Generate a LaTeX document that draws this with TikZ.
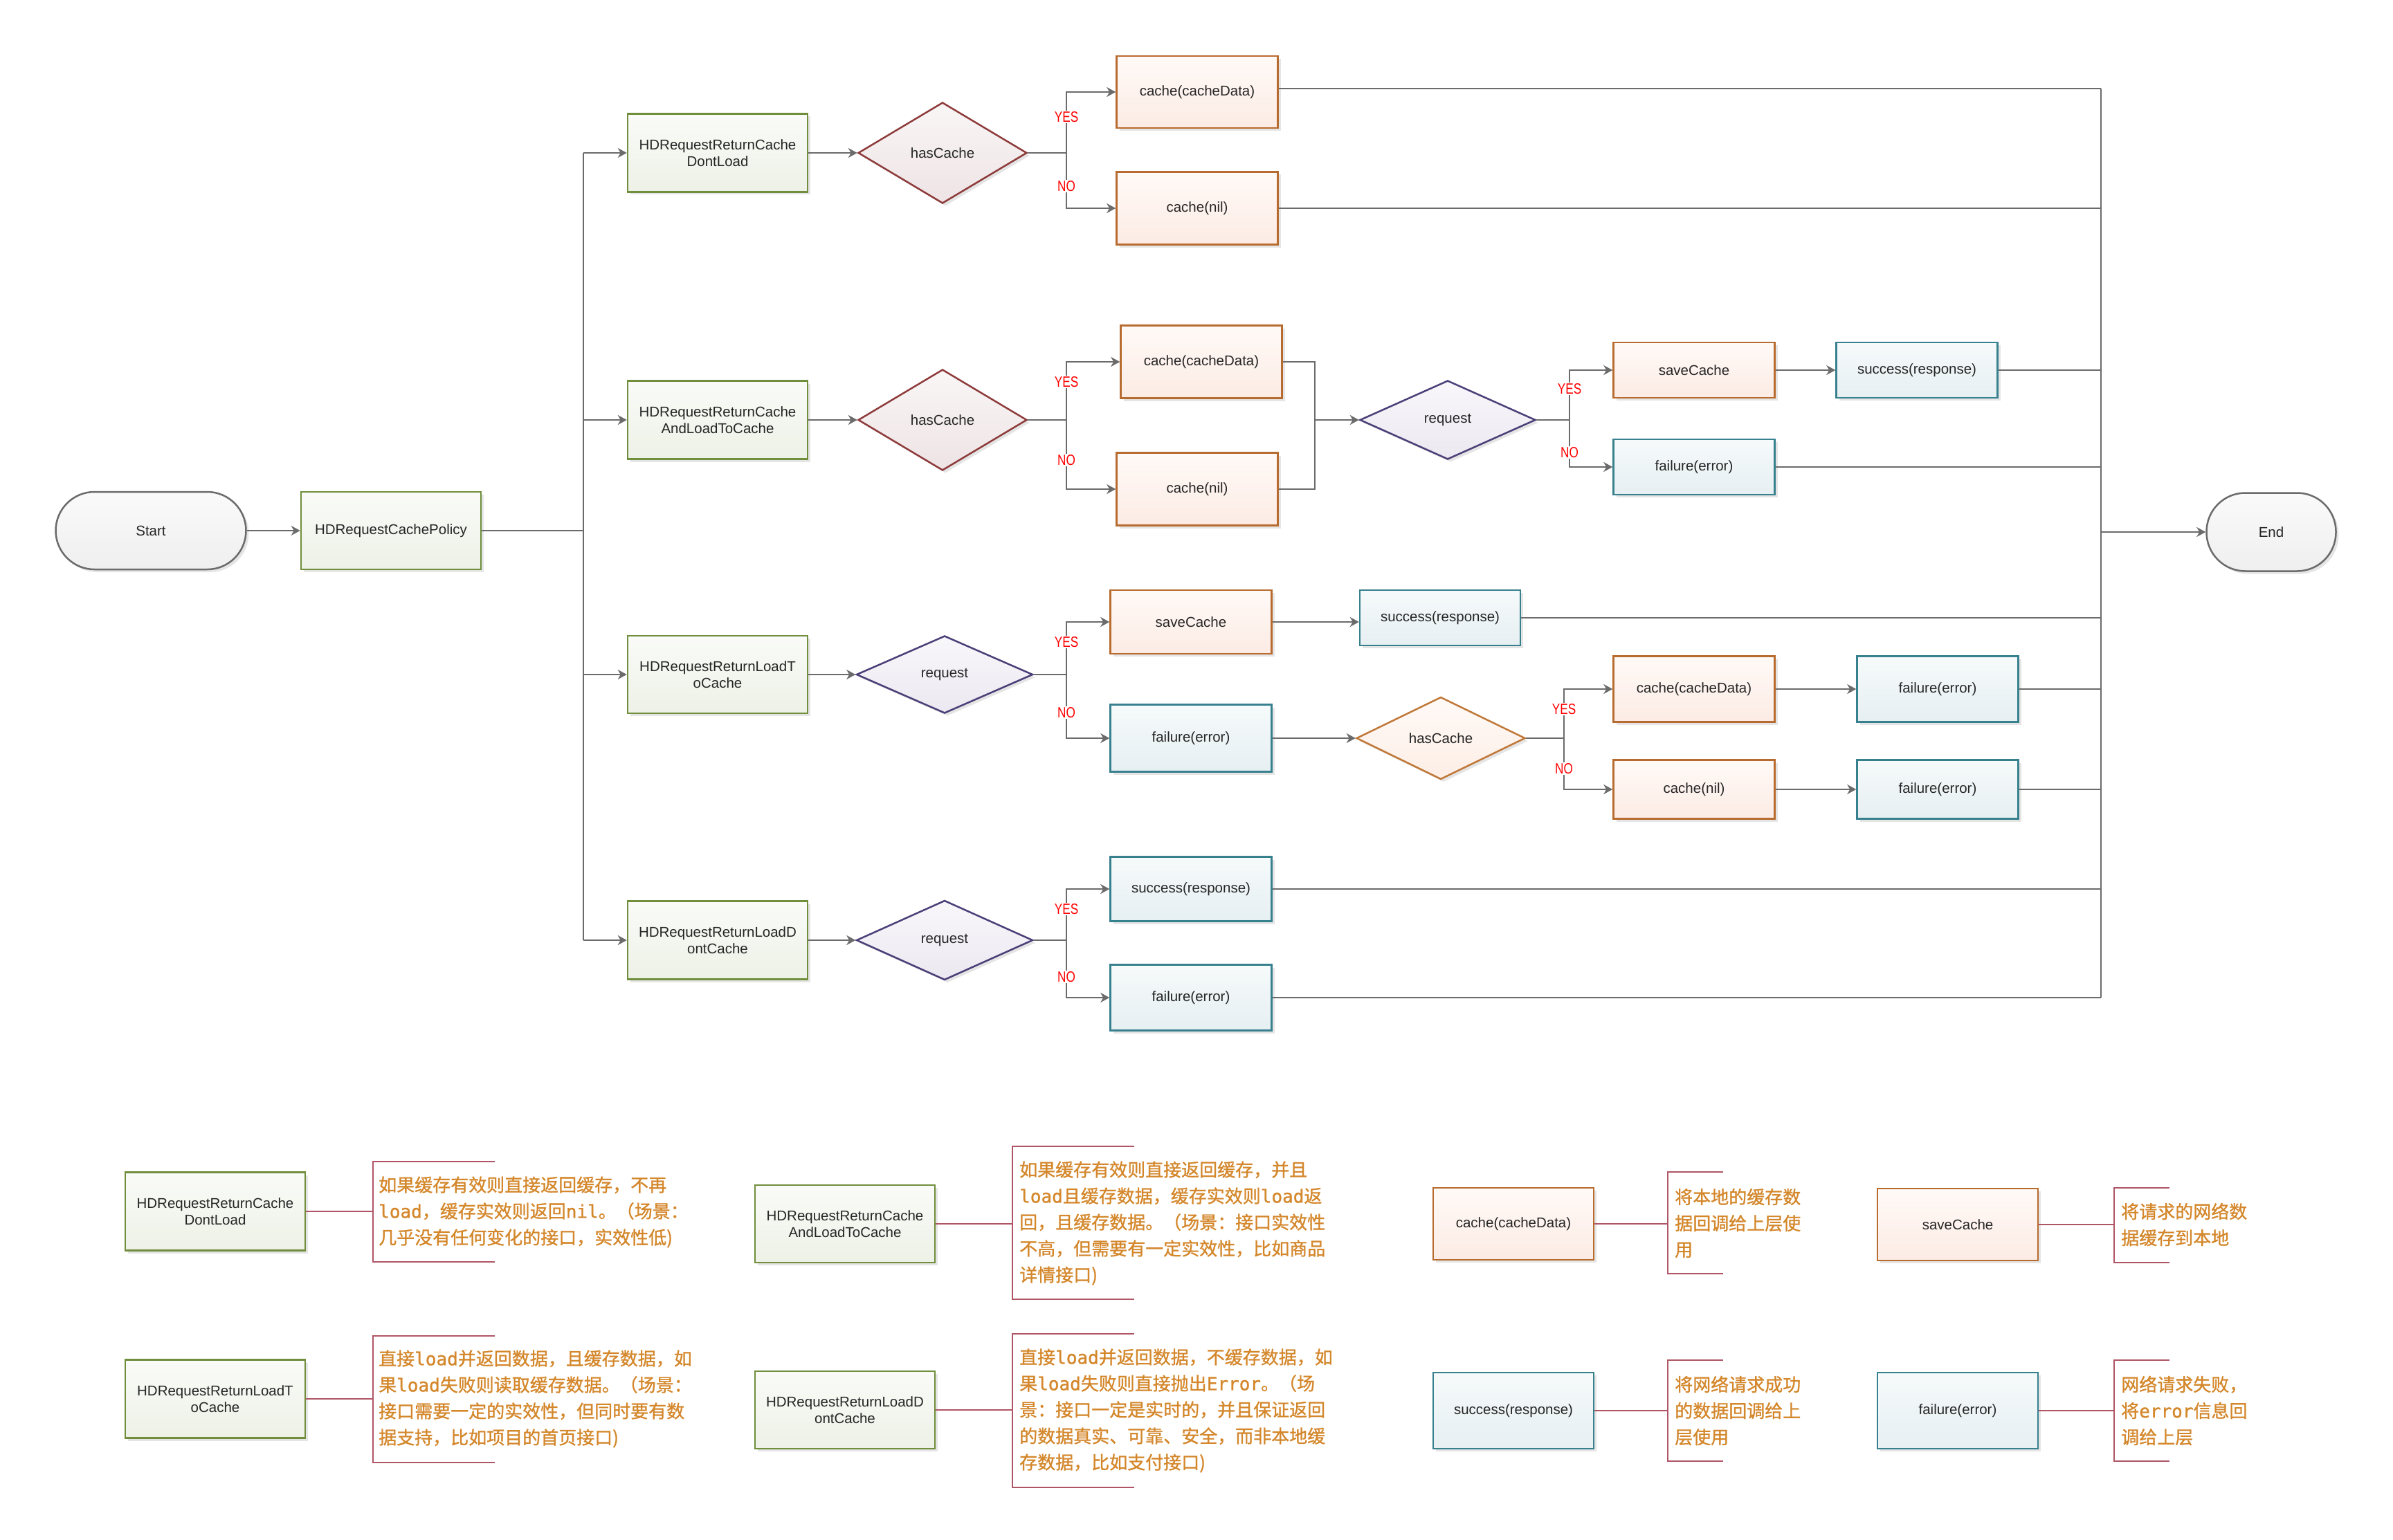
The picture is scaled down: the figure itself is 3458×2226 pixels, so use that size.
\documentclass[tikz,border=0pt]{standalone}
\usepackage{fontspec}
\setmainfont{Liberation Sans}
\newfontfamily\cjkfont[FakeBold=1]{Noto Sans CJK SC}
\newfontfamily\monofont[FakeBold=1]{DejaVu Sans Mono}
\newfontfamily\narrowfont[FakeStretch=0.8]{Liberation Sans}
\usetikzlibrary{shapes.geometric,arrows.meta,shadows}

\definecolor{linegray}{HTML}{6B6B6B}
\definecolor{grnB}{HTML}{708E3C}
\definecolor{grnT}{HTML}{FAFBF8}
\definecolor{grnD}{HTML}{EDF1E6}
\definecolor{orgB}{HTML}{B86B2E}
\definecolor{orgT}{HTML}{FFFAF7}
\definecolor{orgD}{HTML}{FCEBE4}
\definecolor{bluB}{HTML}{37808E}
\definecolor{bluT}{HTML}{F6FAFB}
\definecolor{bluD}{HTML}{E6EFF2}
\definecolor{redB}{HTML}{8E3B3B}
\definecolor{redT}{HTML}{F9F6F6}
\definecolor{redD}{HTML}{EEE3E5}
\definecolor{purB}{HTML}{4B3F78}
\definecolor{purT}{HTML}{F8F7FA}
\definecolor{purD}{HTML}{ECE8F1}
\definecolor{hcB}{HTML}{C07838}
\definecolor{hcT}{HTML}{FFFAF7}
\definecolor{hcD}{HTML}{FDEEE6}
\definecolor{trmB}{HTML}{6B6B6B}
\definecolor{trmT}{HTML}{FAFAFA}
\definecolor{trmD}{HTML}{EFEFEF}
\definecolor{lgline}{HTML}{B05565}
\definecolor{lgtxt}{HTML}{D4872B}

\newcommand\lblfont{\fontsize{20.5}{24}\selectfont}

\tikzset{
  shapebase/.style={draw, line width=2.5pt, inner sep=2pt, align=center, font=\lblfont, text=black!85,
    drop shadow={shadow xshift=4pt, shadow yshift=-4pt, fill=black!10, opacity=1}},
  greenbox/.style={shapebase, rectangle, draw=grnB, top color=grnT, bottom color=grnD, minimum width=260pt},
  orangebox/.style={shapebase, rectangle, draw=orgB, top color=orgT, bottom color=orgD, minimum width=233pt},
  bluebox/.style={shapebase, rectangle, draw=bluB, top color=bluT, bottom color=bluD, minimum width=233pt},
  terminal/.style={shapebase, rectangle, rounded corners=56pt, draw=trmB, top color=trmT, bottom color=trmD, minimum height=112pt},
  diamondbase/.style={shapebase, diamond, inner sep=0pt},
  redcheck/.style={diamondbase, draw=redB, top color=redT, bottom color=redD},
  purcheck/.style={diamondbase, draw=purB, top color=purT, bottom color=purD},
  orgcheck/.style={diamondbase, draw=hcB, top color=hcT, bottom color=hcD},
  wire/.style={draw=linegray, line width=2.5pt},
  wirearrow/.style={wire, -{Stealth[length=13pt,width=14pt,inset=4pt]}},
  yn/.style={text=red, font=\narrowfont\fontsize{21.5}{24}\selectfont, fill=white, inner sep=1.5pt},
  lgwire/.style={draw=lgline, line width=2.5pt},
  lgtext/.style={text=lgtxt, font=\cjkfont\fontsize{26}{38}\selectfont, align=left, anchor=west, inner sep=0pt},
}

\newcommand\lgbracket[4]{\draw[lgwire] (#4,#2) -- (#1,#2) -- (#1,#3) -- (#4,#3);}

\begin{document}
\begin{tikzpicture}[x=1pt,y=-1pt]
\useasboundingbox (0,0) rectangle (3458,2226);
\fill[white] (0,0) rectangle (3458,2226);

% ---------- main flow nodes ----------
\node[terminal, minimum width=275pt] (start) at (218,767) {Start};
\node[greenbox, minimum height=112pt] (policy) at (565,767) {HDRequestCachePolicy};
\node[terminal, minimum width=187pt, minimum height=113pt] (endn) at (3282,769) {End};

\node[greenbox, minimum height=113pt] (r1) at (1037,221) {HDRequestReturnCache\\DontLoad};
\node[greenbox, minimum height=113pt] (r2) at (1037,607) {HDRequestReturnCache\\AndLoadToCache};
\node[greenbox, minimum height=112pt] (r3) at (1037,975) {HDRequestReturnLoadT\\oCache};
\node[greenbox, minimum height=113pt] (r4) at (1037,1359) {HDRequestReturnLoadD\\ontCache};

\node[redcheck, minimum width=244pt, minimum height=146pt] (d1) at (1362,221) {hasCache};
\node[redcheck, minimum width=244pt, minimum height=146pt] (d2) at (1362,607) {hasCache};
\node[purcheck, minimum width=255pt, minimum height=112pt] (q3) at (1365,975) {request};
\node[purcheck, minimum width=255pt, minimum height=115pt] (q4) at (1365,1359) {request};
\node[purcheck, minimum width=254pt, minimum height=114pt] (q2) at (2092,607) {request};
\node[orgcheck, minimum width=244pt, minimum height=119pt] (h3) at (2082,1067) {hasCache};

\node[orangebox, minimum height=104pt] (c1a) at (1730,133) {cache(cacheData)};
\node[orangebox, minimum height=105pt] (c1n) at (1730,301) {cache(nil)};
\node[orangebox, minimum height=105pt] (c2a) at (1736,523) {cache(cacheData)};
\node[orangebox, minimum height=105pt] (c2n) at (1730,707) {cache(nil)};
\node[orangebox, minimum height=80pt] (s2) at (2448,535) {saveCache};
\node[orangebox, minimum height=92pt] (s3) at (1721,899) {saveCache};
\node[orangebox, minimum height=95pt] (c3a) at (2448,996) {cache(cacheData)};
\node[orangebox, minimum height=85pt] (c3n) at (2448,1141) {cache(nil)};

\node[bluebox, minimum height=80pt] (ok2) at (2770,535) {success(response)};
\node[bluebox, minimum height=80pt] (f2) at (2448,675) {failure(error)};
\node[bluebox, minimum height=80pt, minimum width=232pt] (ok3) at (2081,893) {success(response)};
\node[bluebox, minimum height=97pt] (f3) at (1721,1067) {failure(error)};
\node[bluebox, minimum height=95pt] (f3a) at (2800,996) {failure(error)};
\node[bluebox, minimum height=85pt] (f3n) at (2800,1141) {failure(error)};
\node[bluebox, minimum height=93pt] (ok4) at (1721,1285) {success(response)};
\node[bluebox, minimum height=95pt] (f4) at (1721,1442) {failure(error)};

% ---------- coordinates ----------
\coordinate (trunkTop) at (843,221);
\coordinate (trunkBot) at (843,1359);
\coordinate (trunkMid) at (843,767);
\coordinate (br1) at (1541,221);
\coordinate (br2) at (1541,607);
\coordinate (mg2) at (1900,607);
\coordinate (bq2) at (2268,607);
\coordinate (br3) at (1541,975);
\coordinate (bh3) at (2260,1067);
\coordinate (br4) at (1541,1359);
\coordinate (colT) at (3036,128);
\coordinate (colB) at (3036,1442);

% ---------- connectors ----------
\draw[wirearrow] (start) -- (policy);
\draw[wire] (policy) -- (trunkMid);
\draw[wire] (trunkTop) -- (trunkBot);
\draw[wirearrow] (trunkTop) -- (r1);
\draw[wirearrow] (trunkTop |- r2) -- (r2);
\draw[wirearrow] (trunkTop |- r3) -- (r3);
\draw[wirearrow] (trunkBot) -- (r4);

% row 1
\draw[wirearrow] (r1) -- (d1);
\draw[wire] (d1.east) -- (br1);
\draw[wirearrow] (br1) |- (c1a);
\draw[wirearrow] (br1) |- (c1n);

% row 2
\draw[wirearrow] (r2) -- (d2);
\draw[wire] (d2.east) -- (br2);
\draw[wirearrow] (br2) |- (c2a);
\draw[wirearrow] (br2) |- (c2n);
\draw[wire] (c2a.east) -| (mg2) |- (c2n.east);
\draw[wirearrow] (mg2) -- (q2);
\draw[wire] (q2.east) -- (bq2);
\draw[wirearrow] (bq2) |- (s2);
\draw[wirearrow] (bq2) |- (f2);
\draw[wirearrow] (s2) -- (ok2);

% row 3
\draw[wirearrow] (r3) -- (q3);
\draw[wire] (q3.east) -- (br3);
\draw[wirearrow] (br3) |- (s3);
\draw[wirearrow] (br3) |- (f3);
\draw[wirearrow] (s3.east) -- (s3.east -| ok3.west);
\draw[wirearrow] (f3) -- (h3);
\draw[wire] (h3.east) -- (bh3);
\draw[wirearrow] (bh3) |- (c3a);
\draw[wirearrow] (bh3) |- (c3n);
\draw[wirearrow] (c3a) -- (f3a);
\draw[wirearrow] (c3n) -- (f3n);

% row 4
\draw[wirearrow] (r4) -- (q4);
\draw[wire] (q4.east) -- (br4);
\draw[wirearrow] (br4) |- (ok4);
\draw[wirearrow] (br4) |- (f4);

% collector
\draw[wire] (c1a.east |- colT) -- (colT);
\foreach \n in {c1n,ok2,f2,ok3,f3a,f3n,ok4,f4}
  \draw[wire] (\n.east) -- (\n.east -| colT);
\draw[wire] (colT) -- (colB);
\draw[wirearrow] (colT |- endn) -- (endn);

% yes / no labels
\node[yn] at (1541,169) {YES};
\node[yn] at (1541,269) {NO};
\node[yn] at (1541,552) {YES};
\node[yn] at (1541,665) {NO};
\node[yn] at (2268,562) {YES};
\node[yn] at (2268,654) {NO};
\node[yn] at (1541,928) {YES};
\node[yn] at (1541,1030) {NO};
\node[yn] at (2260,1025) {YES};
\node[yn] at (2260,1111) {NO};
\node[yn] at (1541,1314) {YES};
\node[yn] at (1541,1412) {NO};

% ---------- legend ----------
\node[greenbox, minimum height=113pt] (lg1) at (311,1751) {HDRequestReturnCache\\DontLoad};
\node[greenbox, minimum height=113pt] (lg2) at (311,2022) {HDRequestReturnLoadT\\oCache};
\node[greenbox, minimum height=112pt] (lg3) at (1221,1769) {HDRequestReturnCache\\AndLoadToCache};
\node[greenbox, minimum height=112pt] (lg4) at (1221,2038) {HDRequestReturnLoadD\\ontCache};
\node[orangebox, minimum height=104pt, minimum width=232pt] (lg5) at (2187,1769) {cache(cacheData)};
\node[orangebox, minimum height=104pt, minimum width=232pt] (lg6) at (2829,1770) {saveCache};
\node[bluebox, minimum height=110pt, minimum width=232pt] (lg7) at (2187,2039) {success(response)};
\node[bluebox, minimum height=110pt, minimum width=232pt] (lg8) at (2829,2039) {failure(error)};

\coordinate (k1) at (539,1751);
\coordinate (k2) at (539,2022);
\coordinate (k3) at (1463,1769);
\coordinate (k4) at (1463,2038);
\coordinate (k5) at (2410,1769);
\coordinate (k6) at (3055,1770);
\coordinate (k7) at (2410,2039);
\coordinate (k8) at (3055,2039);

\foreach \n/\k in {lg1/k1,lg2/k2,lg3/k3,lg4/k4,lg5/k5,lg6/k6,lg7/k7,lg8/k8}
  \draw[lgwire] (\n.east) -- (\k);

\lgbracket{539}{1679}{1824}{715}
\lgbracket{539}{1931}{2114}{715}
\lgbracket{1463}{1657}{1878}{1639}
\lgbracket{1463}{1928}{2150}{1639}
\lgbracket{2410}{1694}{1841}{2490}
\lgbracket{3055}{1717}{1825}{3135}
\lgbracket{2410}{1966}{2112}{2490}
\lgbracket{3055}{1966}{2112}{3135}

\node[lgtext] (t1) at (547,1752) {如果缓存有效则直接返回缓存，不再\\{\monofont load}，缓存实效则返回{\monofont nil}。（场景：\\几乎没有任何变化的接口，实效性低)};
\node[lgtext] (t2) at (547,2022) {直接{\monofont load}并返回数据，且缓存数据，如\\果{\monofont load}失败则读取缓存数据。（场景：\\接口需要一定的实效性，但同时要有数\\据支持，比如项目的首页接口)};
\node[lgtext] (t3) at (1473,1768) {如果缓存有效则直接返回缓存，并且\\{\monofont load}且缓存数据，缓存实效则{\monofont load}返\\回，且缓存数据。（场景：接口实效性\\不高，但需要有一定实效性，比如商品\\详情接口)};
\node[lgtext] (t4) at (1473,2039) {直接{\monofont load}并返回数据，不缓存数据，如\\果{\monofont load}失败则直接抛出{\monofont Error}。（场\\景：接口一定是实时的，并且保证返回\\的数据真实、可靠、安全，而非本地缓\\存数据，比如支付接口)};
\node[lgtext] (t5) at (2420,1768) {将本地的缓存数\\据回调给上层使\\用};
\node[lgtext] (t6) at (3065,1770) {将请求的网络数\\据缓存到本地};
\node[lgtext] (t7) at (2420,2039) {将网络请求成功\\的数据回调给上\\层使用};
\node[lgtext] (t8) at (3065,2039) {网络请求失败，\\将{\monofont error}信息回\\调给上层};

\end{tikzpicture}
\end{document}
